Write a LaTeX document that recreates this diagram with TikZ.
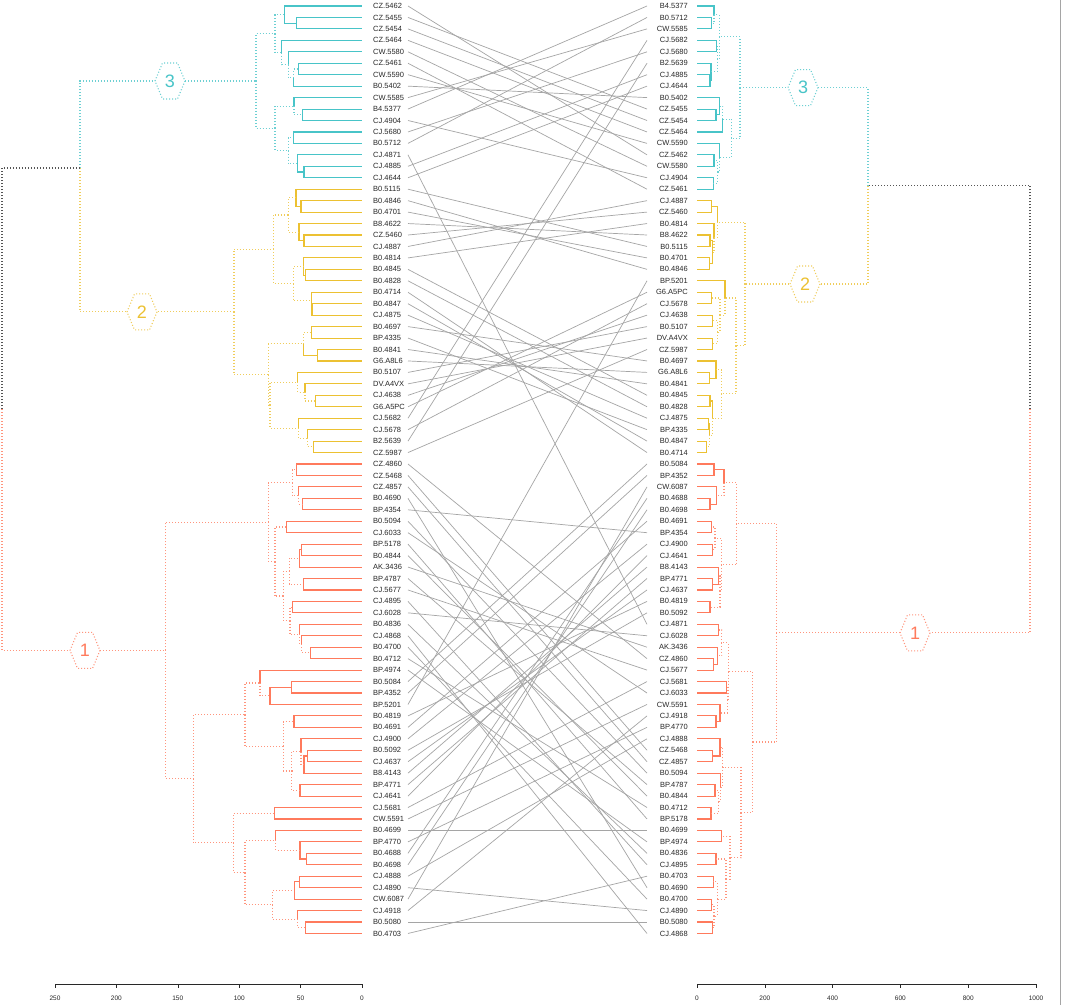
\documentclass[tikz,border=0pt]{standalone}
\usepackage{fontspec}
\setmainfont{Liberation Sans}
\usetikzlibrary{calc}
\definecolor{cyC}{RGB}{72,196,200}
\definecolor{yeC}{RGB}{236,193,50}
\definecolor{orC}{RGB}{255,122,92}
\definecolor{grC}{RGB}{85,85,85}
\definecolor{lnC}{RGB}{165,165,165}
\definecolor{txC}{RGB}{40,40,40}
\tikzset{
  sol/.style={line width=1.1pt},
  dot/.style={line width=1.1pt,dash pattern=on 1pt off 2pt},
  c3s/.style={sol,draw=cyC}, c3d/.style={dot,draw=cyC!80},
  c2s/.style={sol,draw=yeC}, c2d/.style={dot,draw=yeC!80},
  c1s/.style={sol,draw=orC}, c1d/.style={dot,draw=orC!80},
  gd/.style={dot,draw=grC},
  lblL/.style={anchor=west,inner sep=0pt,text=txC,font=\fontsize{7.5}{9}\selectfont},
  lblR/.style={anchor=east,inner sep=0pt,text=txC,font=\fontsize{7.5}{9}\selectfont},
  conn/.style={draw=lnC,line width=0.7pt},
  axl/.style={inner sep=0pt,text=txC,font=\fontsize{6.5}{7}\selectfont},
}
\newcommand\mrg[6]{%
  \path let \p1=($(#3)!0.5!(#4)$) in coordinate (#1) at (#2,\y1);
  \draw[#5] (#1) |- (#3);
  \draw[#6] (#1) |- (#4);
}
\newcommand\hexlab[5]{%
  \path let \p1=(#3) in coordinate (#1) at (#2,\y1);
  \draw[#5,fill=white] ([shift={(-15,0)}]#1) -- ++(7.5,18) -- ++(15,0) -- ++(7.5,-18) -- ++(-7.5,-18) -- ++(-15,0) -- cycle;
  \node[inner sep=0pt,font=\fontsize{18}{18}\selectfont] (#1t) at (#1) {#4};
}
\begin{document}
\begin{tikzpicture}[x=1pt,y=1pt]
\useasboundingbox (0,0) rectangle (1065,-1007);
\fill[white] (0,0) rectangle (1065,-1007);
% leaves and labels
\foreach \i/\t in {1/CZ.5462,2/CZ.5455,3/CZ.5454,4/CZ.5464,5/CW.5580,6/CZ.5461,7/CW.5590,8/B0.5402,9/CW.5585,10/B4.5377,11/CJ.4904,12/CJ.5680,13/B0.5712,14/CJ.4871,15/CJ.4885,16/CJ.4644,17/B0.5115,18/B0.4846,19/B0.4701,20/B8.4622,21/CZ.5460,22/CJ.4887,23/B0.4814,24/B0.4845,25/B0.4828,26/B0.4714,27/B0.4847,28/CJ.4875,29/B0.4697,30/BP.4335,31/B0.4841,32/G6.A8L6,33/B0.5107,34/DV.A4VX,35/CJ.4638,36/G6.A5PC,37/CJ.5682,38/CJ.5678,39/B2.5639,40/CZ.5987,41/CZ.4860,42/CZ.5468,43/CZ.4857,44/B0.4690,45/BP.4354,46/B0.5094,47/CJ.6033,48/BP.5178,49/B0.4844,50/AK.3436,51/BP.4787,52/CJ.5677,53/CJ.4895,54/CJ.6028,55/B0.4836,56/CJ.4868,57/B0.4700,58/B0.4712,59/BP.4974,60/B0.5084,61/BP.4352,62/BP.5201,63/B0.4819,64/B0.4691,65/CJ.4900,66/B0.5092,67/CJ.4637,68/B8.4143,69/BP.4771,70/CJ.4641,71/CJ.5681,72/CW.5591,73/B0.4699,74/BP.4770,75/B0.4688,76/B0.4698,77/CJ.4888,78/CJ.4890,79/CW.6087,80/CJ.4918,81/B0.5080,82/B0.4703}{
  \coordinate (a\i) at (362,{-(6+(\i-1)*11.45)});
  \coordinate (ca\i) at (408,{-(6+(\i-1)*11.45)});
  \node[lblL] (la\i) at (373,{-(6+(\i-1)*11.45)}) {\t};
}
\foreach \i/\t in {1/B4.5377,2/B0.5712,3/CW.5585,4/CJ.5682,5/CJ.5680,6/B2.5639,7/CJ.4885,8/CJ.4644,9/B0.5402,10/CZ.5455,11/CZ.5454,12/CZ.5464,13/CW.5590,14/CZ.5462,15/CW.5580,16/CJ.4904,17/CZ.5461,18/CJ.4887,19/CZ.5460,20/B0.4814,21/B8.4622,22/B0.5115,23/B0.4701,24/B0.4846,25/BP.5201,26/G6.A5PC,27/CJ.5678,28/CJ.4638,29/B0.5107,30/DV.A4VX,31/CZ.5987,32/B0.4697,33/G6.A8L6,34/B0.4841,35/B0.4845,36/B0.4828,37/CJ.4875,38/BP.4335,39/B0.4847,40/B0.4714,41/B0.5084,42/BP.4352,43/CW.6087,44/B0.4688,45/B0.4698,46/B0.4691,47/BP.4354,48/CJ.4900,49/CJ.4641,50/B8.4143,51/BP.4771,52/CJ.4637,53/B0.4819,54/B0.5092,55/CJ.4871,56/CJ.6028,57/AK.3436,58/CZ.4860,59/CJ.5677,60/CJ.5681,61/CJ.6033,62/CW.5591,63/CJ.4918,64/BP.4770,65/CJ.4888,66/CZ.5468,67/CZ.4857,68/B0.5094,69/BP.4787,70/B0.4844,71/B0.4712,72/BP.5178,73/B0.4699,74/BP.4974,75/B0.4836,76/CJ.4895,77/B0.4703,78/B0.4690,79/B0.4700,80/CJ.4890,81/B0.5080,82/CJ.4868}{
  \coordinate (b\i) at (697,{-(6+(\i-1)*11.45)});
  \coordinate (cb\i) at (647,{-(6+(\i-1)*11.45)});
  \node[lblR] (lb\i) at (688,{-(6+(\i-1)*11.45)}) {\t};
}
% connectors
\foreach \i/\j in {1/14,2/10,3/11,4/12,5/15,6/17,7/13,8/9,9/3,10/1,11/16,12/5,13/2,14/55,15/7,16/8,17/22,18/24,19/23,20/21,21/19,22/18,23/20,24/35,25/36,26/40,27/39,28/37,29/32,30/38,31/34,32/33,33/29,34/30,35/28,36/26,37/4,38/27,39/6,40/31,41/58,42/66,43/67,44/78,45/47,46/68,47/61,48/72,49/70,50/57,51/69,52/59,53/76,54/56,55/75,56/82,57/79,58/71,59/74,60/41,61/42,62/25,63/53,64/46,65/48,66/54,67/52,68/50,69/51,70/49,71/60,72/62,73/73,74/64,75/44,76/45,77/65,78/80,79/43,80/63,81/81,82/77}{
  \draw[conn] (ca\i) -- (cb\j);
}
% ---------- left tree, cluster 3
\mrg{p23}{296.7}{a2}{a3}{c3s}{c3s}
\mrg{p123}{284.3}{a1}{p23}{c3s}{c3s}
\mrg{p67}{298.3}{a6}{a7}{c3s}{c3s}
\mrg{p678}{293.3}{p67}{a8}{c3d}{c3s}
\mrg{p5to8}{288.3}{a5}{p678}{c3s}{c3d}
\mrg{p4to8}{281.7}{a4}{p5to8}{c3s}{c3d}
\mrg{pE}{275}{p123}{p4to8}{c3d}{c3d}
\mrg{p1011}{302.7}{a10}{a11}{c3s}{c3s}
\mrg{p9to11}{294}{a9}{p1011}{c3s}{c3d}
\mrg{p1213}{293.3}{a12}{a13}{c3s}{c3s}
\mrg{p1516}{304}{a15}{a16}{c3s}{c3s}
\mrg{p14to16}{297.7}{a14}{p1516}{c3s}{c3s}
\mrg{pG}{288.3}{p1213}{p14to16}{c3d}{c3d}
\mrg{pF}{275}{p9to11}{pG}{c3d}{c3d}
\mrg{r3}{256}{pE}{pF}{c3d}{c3d}
% cluster 2
\mrg{q1819}{301}{a18}{a19}{c2s}{c2s}
\mrg{q17to19}{296}{a17}{q1819}{c2s}{c2s}
\mrg{q2122}{304}{a21}{a22}{c2s}{c2s}
\mrg{q20to22}{299}{a20}{q2122}{c2s}{c2s}
\mrg{qH}{288.3}{q17to19}{q20to22}{c2d}{c2d}
\mrg{q2425}{305.3}{a24}{a25}{c2s}{c2s}
\mrg{q23to25}{303.3}{a23}{q2425}{c2s}{c2s}
\mrg{q2728}{312}{a27}{a28}{c2s}{c2s}
\mrg{q26to28}{311.3}{a26}{q2728}{c2s}{c2s}
\mrg{qI}{293.3}{q23to25}{q26to28}{c2d}{c2d}
\mrg{qJ}{273.3}{qH}{qI}{c2d}{c2d}
\mrg{q2930}{311.7}{a29}{a30}{c2s}{c2s}
\mrg{q3132}{317.3}{a31}{a32}{c2s}{c2s}
\mrg{qK}{303.3}{q2930}{q3132}{c2d}{c2s}
\mrg{q3536}{315.7}{a35}{a36}{c2s}{c2s}
\mrg{q34to36}{305}{a34}{q3536}{c2s}{c2d}
\mrg{qL}{297.7}{a33}{q34to36}{c2s}{c2d}
\mrg{q3940}{313.3}{a39}{a40}{c2s}{c2s}
\mrg{q38to40}{307.3}{a38}{q3940}{c2s}{c2d}
\mrg{q37to40}{298.3}{a37}{q38to40}{c2s}{c2d}
\mrg{qM}{270}{qL}{q37to40}{c2d}{c2d}
\mrg{qN}{268.3}{qK}{qM}{c2d}{c2d}
\mrg{r2}{234}{qJ}{qN}{c2d}{c2d}
% cluster 1
\mrg{s4142}{296.7}{a41}{a42}{c1s}{c1s}
\mrg{s4445}{302.7}{a44}{a45}{c1s}{c1s}
\mrg{s43to45}{298.3}{a43}{s4445}{c1s}{c1d}
\mrg{s41to45}{292.3}{s4142}{s43to45}{c1d}{c1d}
\mrg{s4647}{286.7}{a46}{a47}{c1s}{c1s}
\mrg{s4849}{301.7}{a48}{a49}{c1s}{c1s}
\mrg{s48to50}{299.3}{s4849}{a50}{c1s}{c1s}
\mrg{s5152}{303.3}{a51}{a52}{c1s}{c1s}
\mrg{sP}{289.3}{s48to50}{s5152}{c1d}{c1d}
\mrg{s5354}{292.7}{a53}{a54}{c1s}{c1s}
\mrg{s5758}{310.7}{a57}{a58}{c1s}{c1s}
\mrg{s56to58}{301.7}{a56}{s5758}{c1s}{c1d}
\mrg{s55to58}{299.3}{a55}{s56to58}{c1s}{c1d}
\mrg{sQ}{290}{s5354}{s55to58}{c1d}{c1d}
\mrg{sR}{283.3}{sP}{sQ}{c1d}{c1d}
\mrg{sS}{275}{s4647}{sR}{c1d}{c1d}
\mrg{sT}{268.3}{s41to45}{sS}{c1d}{c1d}
\mrg{s6061}{291.7}{a60}{a61}{c1s}{c1s}
\mrg{s60to62}{270}{s6061}{a62}{c1s}{c1s}
\mrg{sU}{260}{a59}{s60to62}{c1s}{c1d}
\mrg{s6364}{294}{a63}{a64}{c1s}{c1s}
\mrg{s6667}{307.3}{a66}{a67}{c1s}{c1s}
\mrg{s66to68}{304}{s6667}{a68}{c1s}{c1s}
\mrg{s65to68}{301}{a65}{s66to68}{c1s}{c1d}
\mrg{s6970}{300}{a69}{a70}{c1s}{c1s}
\mrg{sV}{291.7}{s65to68}{s6970}{c1d}{c1d}
\mrg{sW}{283.3}{s6364}{sV}{c1d}{c1d}
\mrg{sX}{245}{sU}{sW}{c1d}{c1d}
\mrg{s7172}{274.3}{a71}{a72}{c1s}{c1s}
\mrg{s7576}{306.7}{a75}{a76}{c1s}{c1s}
\mrg{s74to76}{300}{a74}{s7576}{c1s}{c1s}
\mrg{s73to76}{275.7}{a73}{s74to76}{c1s}{c1d}
\mrg{s7778}{299.3}{a77}{a78}{c1s}{c1s}
\mrg{s77to79}{294.3}{s7778}{a79}{c1s}{c1s}
\mrg{s8182}{305.7}{a81}{a82}{c1s}{c1s}
\mrg{s80to82}{297.7}{a80}{s8182}{c1s}{c1d}
\mrg{s77to82}{272.7}{s77to79}{s80to82}{c1d}{c1d}
\mrg{sZ}{245}{s73to76}{s77to82}{c1d}{c1d}
\mrg{sY}{233.3}{s7172}{sZ}{c1d}{c1d}
\mrg{sAA}{193.3}{sX}{sY}{c1d}{c1d}
\mrg{r1}{165.5}{sT}{sAA}{c1d}{c1d}
\coordinate (r32) at (80,-168);
\draw[c3d] (r32) |- (r3);
\draw[c2d] (r32) |- (r2);
\mrg{rootL}{2}{r32}{r1}{gd}{c1d}
% ---------- right tree, cluster 3
\mrg{t23}{711.7}{b2}{b3}{c3s}{c3s}
\mrg{t1to3}{714}{b1}{t23}{c3s}{c3d}
\mrg{t45}{716.3}{b4}{b5}{c3s}{c3s}
\mrg{t78}{710}{b7}{b8}{c3s}{c3s}
\mrg{t6to8}{711}{b6}{t78}{c3s}{c3s}
\mrg{t4to8}{717.3}{t45}{t6to8}{c3d}{c3d}
\mrg{t1to8}{719.3}{t1to3}{t4to8}{c3d}{c3d}
\mrg{t1011}{716}{b10}{b11}{c3s}{c3s}
\mrg{t9to11}{719.3}{b9}{t1011}{c3s}{c3s}
\mrg{t9to12}{722.7}{t9to11}{b12}{c3d}{c3s}
\mrg{t1415}{714}{b14}{b15}{c3s}{c3s}
\mrg{t1617}{713.3}{b16}{b17}{c3s}{c3s}
\mrg{t14to17}{717.3}{t1415}{t1617}{c3d}{c3d}
\mrg{t13to17}{719.3}{b13}{t14to17}{c3s}{c3d}
\mrg{t9to17}{731.7}{t9to12}{t13to17}{c3d}{c3d}
\mrg{r3R}{740}{t1to8}{t9to17}{c3d}{c3d}
% cluster 2
\mrg{u1819}{711.7}{b18}{b19}{c2s}{c2s}
\mrg{u2122}{710}{b21}{b22}{c2s}{c2s}
\mrg{u2324}{709.3}{b23}{b24}{c2s}{c2s}
\mrg{u21to24}{712.7}{u2122}{u2324}{c2s}{c2s}
\mrg{u20to24}{714}{b20}{u21to24}{c2s}{c2d}
\mrg{u18to24}{717.3}{u1819}{u20to24}{c2s}{c2d}
\mrg{u2627}{711.7}{b26}{b27}{c2s}{c2s}
\mrg{u2829}{712.7}{b28}{b29}{c2s}{c2s}
\mrg{u3031}{712.7}{b30}{b31}{c2s}{c2s}
\mrg{u28to31}{717.3}{u2829}{u3031}{c2d}{c2d}
\mrg{u26to31}{720}{u2627}{u28to31}{c2d}{c2d}
\mrg{u25to31}{725}{b25}{u26to31}{c2s}{c2d}
\mrg{u3334}{709.3}{b33}{b34}{c2s}{c2s}
\mrg{u32to34}{716}{b32}{u3334}{c2s}{c2s}
\mrg{u3536}{710}{b35}{b36}{c2s}{c2s}
\mrg{u3738}{708.3}{b37}{b38}{c2s}{c2s}
\mrg{u3940}{706.7}{b39}{b40}{c2s}{c2s}
\mrg{u37to40}{709.3}{u3738}{u3940}{c2s}{c2d}
\mrg{u35to40}{712.7}{u3536}{u37to40}{c2s}{c2d}
\mrg{u32to40}{721.7}{u32to34}{u35to40}{c2d}{c2d}
\mrg{u25to40}{736}{u25to31}{u32to40}{c2d}{c2d}
\mrg{r2R}{745}{u18to24}{u25to40}{c2d}{c2d}
% cluster 1
\mrg{v4142}{714}{b41}{b42}{c1s}{c1s}
\mrg{v4445}{710}{b44}{b45}{c1s}{c1s}
\mrg{v43to45}{716.7}{b43}{v4445}{c1s}{c1s}
\mrg{v41to45}{724}{v4142}{v43to45}{c1s}{c1d}
\mrg{v4647}{711.7}{b46}{b47}{c1s}{c1s}
\mrg{v4849}{712.7}{b48}{b49}{c1s}{c1s}
\mrg{v46to49}{715}{v4647}{v4849}{c1d}{c1d}
\mrg{v5152}{712.7}{b51}{b52}{c1s}{c1s}
\mrg{v50to52}{718.3}{b50}{v5152}{c1s}{c1s}
\mrg{v5354}{710}{b53}{b54}{c1s}{c1s}
\mrg{v50to54}{720}{v50to52}{v5354}{c1d}{c1d}
\mrg{v46to54}{721.7}{v46to49}{v50to54}{c1d}{c1d}
\mrg{v41to54}{736.7}{v41to45}{v46to54}{c1d}{c1d}
\mrg{v5556}{718.3}{b55}{b56}{c1s}{c1s}
\mrg{v5859}{713.3}{b58}{b59}{c1s}{c1s}
\mrg{v57to59}{717.3}{b57}{v5859}{c1s}{c1s}
\mrg{v55to59}{721.7}{v5556}{v57to59}{c1d}{c1d}
\mrg{v6061}{726.7}{b60}{b61}{c1s}{c1s}
\mrg{v6364}{716}{b63}{b64}{c1s}{c1s}
\mrg{v62to64}{720}{b62}{v6364}{c1s}{c1s}
\mrg{v60to64}{727.3}{v6061}{v62to64}{c1d}{c1d}
\mrg{v55to64}{728.3}{v55to59}{v60to64}{c1d}{c1d}
\mrg{v6667}{712.7}{b66}{b67}{c1s}{c1s}
\mrg{v65to67}{720}{b65}{v6667}{c1s}{c1s}
\mrg{v6970}{715}{b69}{b70}{c1s}{c1s}
\mrg{v7172}{711}{b71}{b72}{c1s}{c1s}
\mrg{v69to72}{718.3}{v6970}{v7172}{c1d}{c1d}
\mrg{v68to72}{720.7}{b68}{v69to72}{c1s}{c1d}
\mrg{v65to72}{722.7}{v65to67}{v68to72}{c1d}{c1d}
\mrg{v7374}{721.7}{b73}{b74}{c1s}{c1s}
\mrg{v7576}{716}{b75}{b76}{c1s}{c1s}
\mrg{v7778}{713.3}{b77}{b78}{c1s}{c1s}
\mrg{v7980}{711.7}{b79}{b80}{c1s}{c1s}
\mrg{v8182}{712.7}{b81}{b82}{c1s}{c1s}
\mrg{v79to82}{714}{v7980}{v8182}{c1d}{c1d}
\mrg{v77to82}{717.3}{v7778}{v79to82}{c1d}{c1d}
\mrg{v75to82}{726}{v7576}{v77to82}{c1d}{c1d}
\mrg{v73to82}{730}{v7374}{v75to82}{c1d}{c1d}
\mrg{v65to82}{741}{v65to72}{v73to82}{c1d}{c1d}
\mrg{v55to82}{752.7}{v55to64}{v65to82}{c1d}{c1d}
\mrg{r1R}{776.7}{v41to54}{v55to82}{c1d}{c1d}
\mrg{r32R}{868}{r3R}{r2R}{c3d}{c2d}
\mrg{rootR}{1030}{r32R}{r1R}{gd}{c1d}
% cluster labels
\hexlab{h3L}{170}{r3}{\textcolor{cyC}{3}}{c3d}
\hexlab{h2L}{142}{r2}{\textcolor{yeC}{2}}{c2d}
\hexlab{h1L}{85}{r1}{\textcolor{orC}{1}}{c1d}
\hexlab{h3R}{803}{r3R}{\textcolor{cyC}{3}}{c3d}
\hexlab{h2R}{805}{r2R}{\textcolor{yeC}{2}}{c2d}
\hexlab{h1R}{915}{r1R}{\textcolor{orC}{1}}{c1d}
% axes
\coordinate (axA) at (55,-984);
\coordinate (axB) at (362,-984);
\draw[line width=0.8pt,draw=txC] (axA) -- (axB);
\foreach \v in {0,50,100,150,200,250}{
  \draw[line width=0.6pt,draw=txC] ({362-\v*1.228},-984) -- ++(0,-4);
  \node[axl] (axl\v) at ({362-\v*1.228},-998) {\v};
}
\coordinate (axC) at (697,-984);
\coordinate (axD) at (1036,-984);
\draw[line width=0.8pt,draw=txC] (axC) -- (axD);
\foreach \v in {0,200,400,600,800,1000}{
  \draw[line width=0.6pt,draw=txC] ({697+\v*0.339},-984) -- ++(0,-4);
  \node[axl] (axr\v) at ({697+\v*0.339},-998) {\v};
}
\coordinate (edgeT) at (1060,0);
\coordinate (edgeB) at (1060,-1005);
\draw[draw=lnC,line width=0.8pt] (edgeT) -- (edgeB);
\end{tikzpicture}
\end{document}
